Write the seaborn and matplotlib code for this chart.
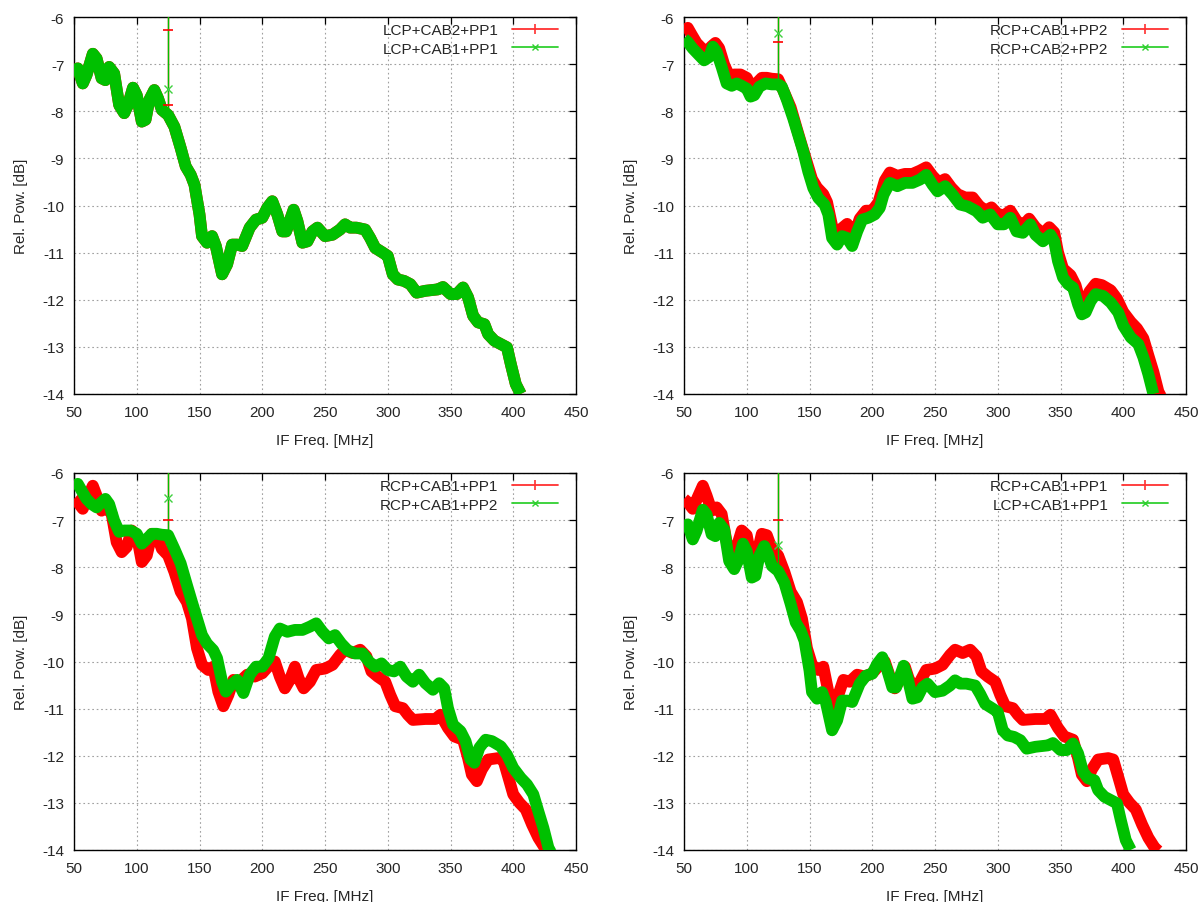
import numpy as np
import pandas as pd
import matplotlib
matplotlib.use("Agg")
import matplotlib.pyplot as plt
from matplotlib.lines import Line2D
import seaborn as sns

# ---------------- data ----------------
# LCP+CAB1+PP1 (also ~ LCP+CAB2+PP1)
lcp_cab1_pp1_f = [50, 53, 57, 60, 65, 68, 72, 75, 78, 82, 86, 90, 93, 97, 100, 104, 107, 110,
                  114, 117, 120, 125, 130, 135, 139, 143, 146, 150, 152, 156, 160, 163, 168,
                  172, 176, 180, 184, 190, 195, 200, 204, 208, 212, 216, 219, 225, 228, 232,
                  236, 240, 244, 250, 256, 262, 266, 270, 275, 282, 286, 290, 296, 300, 304,
                  308, 313, 318, 323, 330, 340, 344, 350, 355, 360, 364, 368, 372, 377, 380,
                  385, 390, 395, 398, 402, 406]
lcp_cab1_pp1_v = [-7.20, -7.09, -7.41, -7.23, -6.78, -6.88, -7.30, -7.34, -7.06, -7.20, -7.87,
                  -8.04, -7.87, -7.50, -7.66, -8.22, -8.18, -7.76, -7.55, -7.73, -7.97, -8.08,
                  -8.33, -8.78, -9.17, -9.35, -9.56, -10.19, -10.65, -10.79, -10.65, -10.86,
                  -11.46, -11.25, -10.83, -10.83, -10.86, -10.47, -10.30, -10.26, -10.05, -9.91,
                  -10.19, -10.55, -10.55, -10.09, -10.33, -10.79, -10.76, -10.55, -10.47,
                  -10.65, -10.62, -10.51, -10.40, -10.47, -10.47, -10.51, -10.69, -10.90,
                  -11.00, -11.07, -11.46, -11.57, -11.60, -11.67, -11.85, -11.81, -11.78,
                  -11.73, -11.88, -11.88, -11.74, -11.95, -12.34, -12.48, -12.52, -12.73,
                  -12.87, -12.94, -13.01, -13.36, -13.79, -14.00]
lcp_cab2_pp1_f = lcp_cab1_pp1_f
lcp_cab2_pp1_v = lcp_cab1_pp1_v

# RCP+CAB1+PP2
rcp_cab1_pp2_f = [50, 53, 56, 60, 64, 68, 72, 75, 78, 82, 86, 90, 95, 100, 104, 108, 112, 116,
                  120, 125, 130, 135, 140, 144, 148, 152, 156, 161, 164, 168, 171, 175, 180,
                  185, 190, 195, 200, 205, 210, 214, 220, 226, 232, 238, 243, 248, 253, 258,
                  263, 268, 274, 280, 285, 290, 295, 300, 305, 310, 315, 320, 325, 330, 336,
                  341, 345, 348, 352, 358, 362, 366, 369, 373, 378, 383, 390, 395, 400, 406,
                  411, 416, 420, 424, 428, 430]
rcp_cab1_pp2_v = [-6.30, -6.23, -6.37, -6.55, -6.66, -6.73, -6.62, -6.55, -6.66, -7.01, -7.25,
                  -7.22, -7.22, -7.29, -7.50, -7.40, -7.29, -7.29, -7.31, -7.32, -7.61, -7.92,
                  -8.38, -8.74, -9.09, -9.44, -9.62, -9.76, -9.93, -10.43, -10.64, -10.50,
                  -10.39, -10.67, -10.28, -10.11, -10.11, -9.93, -9.47, -9.30, -9.37, -9.33,
                  -9.33, -9.26, -9.19, -9.37, -9.51, -9.44, -9.62, -9.76, -9.83, -9.83, -10.00,
                  -10.11, -10.04, -10.18, -10.21, -10.11, -10.32, -10.43, -10.28, -10.46,
                  -10.60, -10.46, -10.57, -10.99, -11.34, -11.48, -11.69, -12.08, -12.15,
                  -11.83, -11.66, -11.69, -11.80, -11.98, -12.26, -12.47, -12.61, -12.82,
                  -13.18, -13.53, -13.95, -14.05]

# RCP+CAB2+PP2
rcp_cab2_pp2_f = [50, 53, 57, 62, 66, 70, 73, 76, 80, 84, 88, 92, 96, 100, 103, 106, 110, 115,
                  120, 125, 128, 132, 137, 141, 145, 149, 153, 157, 162, 165, 168, 172, 176,
                  180, 184, 188, 192, 197, 202, 206, 209, 214, 220, 226, 232, 238, 243, 248,
                  252, 258, 264, 270, 276, 283, 288, 294, 300, 305, 310, 315, 320, 326, 330,
                  336, 342, 345, 348, 352, 356, 360, 364, 367, 370, 374, 378, 384, 390, 396,
                  400, 406, 412, 416, 420, 424]
rcp_cab2_pp2_v = [-6.46, -6.53, -6.67, -6.81, -6.92, -6.85, -6.63, -6.74, -7.06, -7.41, -7.46,
                  -7.41, -7.46, -7.52, -7.69, -7.66, -7.48, -7.41, -7.43, -7.43, -7.48, -7.76,
                  -8.15, -8.50, -8.85, -9.28, -9.63, -9.84, -9.98, -10.19, -10.69, -10.83,
                  -10.65, -10.69, -10.86, -10.55, -10.30, -10.26, -10.19, -10.05, -9.77, -9.52,
                  -9.59, -9.52, -9.52, -9.45, -9.35, -9.56, -9.70, -9.59, -9.77, -9.98, -10.02,
                  -10.12, -10.26, -10.19, -10.40, -10.40, -10.26, -10.55, -10.58, -10.40,
                  -10.62, -10.76, -10.62, -10.76, -11.18, -11.53, -11.67, -11.74, -12.10,
                  -12.31, -12.27, -12.03, -11.88, -11.92, -12.06, -12.27, -12.55, -12.80,
                  -12.94, -13.22, -13.58, -14.00]

# RCP+CAB1+PP1
rcp_cab1_pp1_f = [50, 53, 57, 61, 65, 68, 72, 76, 80, 84, 88, 92, 96, 100, 104, 108, 112, 116,
                  120, 125, 130, 135, 140, 144, 148, 152, 157, 161, 165, 169, 173, 177, 182,
                  188, 194, 200, 206, 210, 214, 218, 222, 226, 229, 233, 238, 243, 250, 256,
                  262, 266, 272, 278, 283, 287, 292, 298, 302, 306, 312, 316, 320, 330, 338,
                  342, 348, 353, 360, 364, 367, 371, 375, 380, 388, 392, 397, 400, 405, 410,
                  415, 420, 425, 428]
rcp_cab1_pp1_v = [-6.55, -6.62, -6.76, -6.51, -6.27, -6.48, -6.80, -6.73, -6.87, -7.47, -7.68,
                  -7.57, -7.22, -7.32, -7.89, -7.75, -7.29, -7.32, -7.61, -7.75, -8.10, -8.52,
                  -8.74, -9.09, -9.72, -10.07, -10.18, -10.11, -10.64, -10.95, -10.71, -10.39,
                  -10.43, -10.28, -10.32, -10.25, -10.07, -10.00, -10.32, -10.57, -10.39,
                  -10.11, -10.36, -10.57, -10.43, -10.18, -10.15, -10.07, -9.86, -9.75, -9.82,
                  -9.75, -9.89, -10.21, -10.32, -10.43, -10.71, -10.95, -10.99, -11.13, -11.24,
                  -11.22, -11.22, -11.13, -11.41, -11.59, -11.66, -12.05, -12.40, -12.54,
                  -12.29, -12.08, -12.05, -12.08, -12.54, -12.82, -13.00, -13.14, -13.46,
                  -13.74, -13.95, -14.02]

# panel layout: (red series label, green series label)
panel_labels = [("LCP+CAB2+PP1", "LCP+CAB1+PP1"),
                ("RCP+CAB1+PP2", "RCP+CAB2+PP2"),
                ("RCP+CAB1+PP1", "RCP+CAB1+PP2"),
                ("RCP+CAB1+PP1", "LCP+CAB1+PP1")]

# glitch at 125 MHz: spike markers per panel (red '+' values, green 'x' values)
spike_freq = 125
spike_top = -4.0
spike_red_marks = [[-6.28, -7.87], [-6.53], [-6.99], [-6.99]]
spike_green_marks = [[-7.52], [-6.35], [-6.54], [-7.52]]

x_ticks = [50, 100, 150, 200, 250, 300, 350, 400, 450]
y_ticks = [-14, -13, -12, -11, -10, -9, -8, -7, -6]

series = {
    "LCP+CAB1+PP1": (lcp_cab1_pp1_f, lcp_cab1_pp1_v),
    "LCP+CAB2+PP1": (lcp_cab2_pp1_f, lcp_cab2_pp1_v),
    "RCP+CAB1+PP2": (rcp_cab1_pp2_f, rcp_cab1_pp2_v),
    "RCP+CAB2+PP2": (rcp_cab2_pp2_f, rcp_cab2_pp2_v),
    "RCP+CAB1+PP1": (rcp_cab1_pp1_f, rcp_cab1_pp1_v),
}

# ---------------- styling ----------------
sns.set_style("white")
plt.rcParams['font.family'] = ['Liberation Sans', 'DejaVu Sans']
RED = "#ff0000"
GREEN = "#00c000"
FS = 11
TXT = "#262626"

fig = plt.figure(figsize=(12.01, 9.03), dpi=100)
W, H = 1201.0, 903.0
positions = [
    (74, 18), (684, 18),
    (74, 474), (684, 474),
]
aw, ah = 502.0, 377.0

for i, (px, py) in enumerate(positions):
    ax = fig.add_axes([px / W, 1 - (py + ah) / H, aw / W, ah / H])
    red_lab, green_lab = panel_labels[i]
    rf, rv = series[red_lab]
    gf, gv = series[green_lab]
    df_r = pd.DataFrame({"f": rf, "v": rv})
    df_g = pd.DataFrame({"f": gf, "v": gv})

    # thin glitch lines at 125 MHz
    rv125 = np.interp(spike_freq, rf, rv)
    gv125 = np.interp(spike_freq, gf, gv)
    ax.plot([spike_freq, spike_freq], [rv125, spike_top], color=RED, lw=1.0, zorder=3)
    sns.lineplot(data=df_r, x="f", y="v", ax=ax, color=RED, lw=8.5, sort=False,
                 estimator=None, zorder=4, solid_joinstyle="round", solid_capstyle="butt")
    ax.plot([spike_freq, spike_freq], [gv125, spike_top], color=GREEN, lw=1.0, zorder=5)
    sns.lineplot(data=df_g, x="f", y="v", ax=ax, color=GREEN, lw=8.5, sort=False,
                 estimator=None, zorder=6, solid_joinstyle="round", solid_capstyle="butt")
    ax.plot([spike_freq] * len(spike_red_marks[i]), spike_red_marks[i], ls="none",
            marker="_", ms=7, mew=1.2, color=RED, zorder=7)
    ax.plot([spike_freq] * len(spike_green_marks[i]), spike_green_marks[i], ls="none",
            marker="x", ms=6, mew=1.0, color="#40d040", zorder=7)

    ax.set_xlim(50, 450)
    ax.set_ylim(-14, -6)
    ax.set_xticks(x_ticks)
    ax.set_yticks(y_ticks)
    ax.set_xticklabels([str(t) for t in x_ticks])
    ax.set_yticklabels([str(t) for t in y_ticks])
    ax.grid(True, color="#a0a0a0", ls=(0, (1.5, 2.5)), lw=0.8)
    ax.set_axisbelow(True)
    ax.tick_params(direction="in", length=5, width=0.9, top=True, right=True,
                   labelsize=FS, colors="black", pad=7)
    ax.tick_params(axis="x", pad=8)
    for tl in ax.get_xticklabels() + ax.get_yticklabels():
        tl.set_color(TXT)
    for sp in ax.spines.values():
        sp.set_color("black")
        sp.set_linewidth(1.0)
        sp.set_visible(True)
    ax.set_xlabel("IF Freq. [MHz]", fontsize=FS, color=TXT, labelpad=10)
    ax.set_ylabel("Rel. Pow. [dB]", fontsize=FS, color=TXT, labelpad=10)

    handles = [Line2D([0], [0], color="#ff3030", lw=1.3, marker="|", ms=7, mew=1.2),
               Line2D([0], [0], color="#30d030", lw=1.3, marker="x", ms=5, mew=1.0)]
    leg = ax.legend(handles, [red_lab, green_lab], loc="upper right", frameon=False,
                    markerfirst=False, handlelength=3.0, handletextpad=0.9, fontsize=FS,
                    labelspacing=0.3, borderaxespad=0.0, borderpad=0.0,
                    bbox_to_anchor=(1 - 18 / aw, 1 - 6 / ah))
    for t in leg.get_texts():
        t.set_color(TXT)

fig.savefig("out.png", dpi=100)
